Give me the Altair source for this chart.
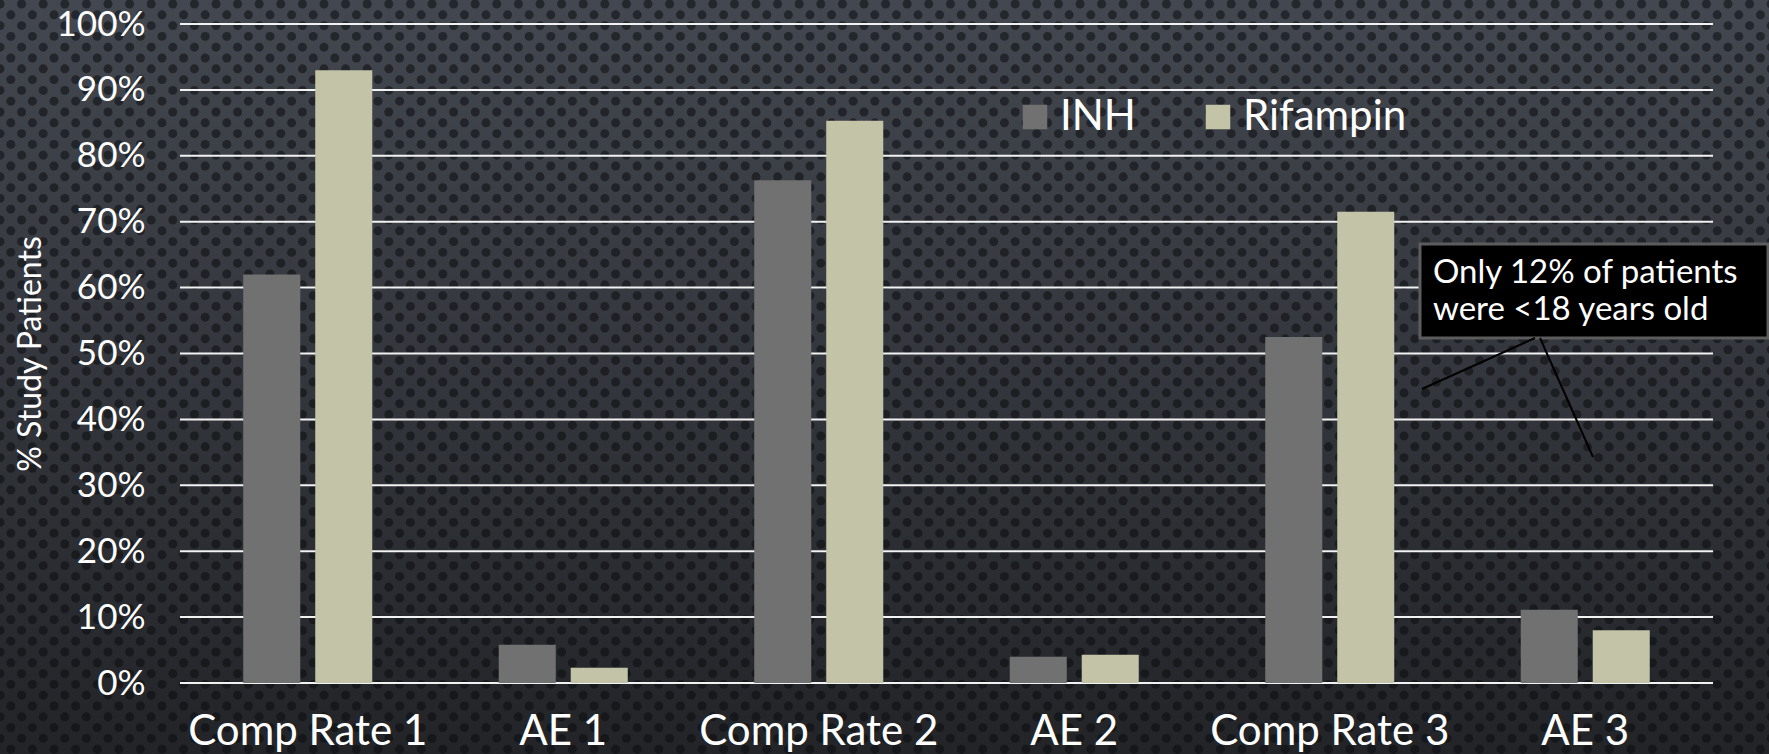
import altair as alt
import numpy as np
import pandas as pd

# ---- chart values -------------------------------------------------------
categories = ["Comp Rate 1", "AE 1", "Comp Rate 2", "AE 2", "Comp Rate 3", "AE 3"]
series = ["INH", "Rifampin"]
inh = [62.0, 5.8, 76.3, 4.0, 52.5, 11.1]
rifampin = [93.0, 2.3, 85.3, 4.3, 71.5, 8.0]
y_ticks = [0, 10, 20, 30, 40, 50, 60, 70, 80, 90, 100]
note_lines = ["Only 12% of patients", "were <18 years old"]

bars = pd.DataFrame(
    [{"category": c, "series": "INH", "value": v} for c, v in zip(categories, inh)]
    + [{"category": c, "series": "Rifampin", "value": v} for c, v in zip(categories, rifampin)]
)
grid = pd.DataFrame({"tick": y_ticks})

# ---- layout -------------------------------------------------------------
W, H = 1533, 659
PAD = {"left": 180, "top": 24, "right": 56, "bottom": 71}
TOTAL_W = W + PAD["left"] + PAD["right"]
TOTAL_H = H + PAD["top"] + PAD["bottom"]
FONT = "Lato"
one = pd.DataFrame({"k": [0]})

y_scale = alt.Scale(domain=[0, 100], nice=False)

# dark perforated-metal backdrop: gradient plate + staggered holes
plate = alt.Chart(one).mark_rect(
    color=alt.Gradient(
        gradient="linear", x1=0, x2=0, y1=0, y2=1,
        stops=[alt.GradientStop(offset=0, color="#43474f"),
               alt.GradientStop(offset=0.5, color="#33363c"),
               alt.GradientStop(offset=1, color="#222428")],
    )
).encode(
    x=alt.value(-PAD["left"]), x2=alt.value(W + PAD["right"]),
    y=alt.value(-PAD["top"]), y2=alt.value(H + PAD["bottom"]),
)

sx, sy = 21.6, 10.8
rows = []
for r in range(int(TOTAL_H / sy) + 2):
    off = 0 if r % 2 == 0 else sx / 2
    for c in np.arange(off, TOTAL_W + sx, sx):
        rows.append({"hx": c, "hy": r * sy + 4})
holes_df = pd.DataFrame(rows)
holes = alt.Chart(holes_df).mark_circle(color="#0b0c0e", opacity=0.55, size=80).encode(
    x=alt.X("hx:Q", scale=alt.Scale(domain=[0, TOTAL_W], range=[-PAD["left"], W + PAD["right"]]), axis=None),
    y=alt.Y("hy:Q", scale=alt.Scale(domain=[0, TOTAL_H], range=[-PAD["top"], H + PAD["bottom"]]), axis=None),
)

# horizontal gridlines (drawn as rules so they sit above the backdrop)
rules = alt.Chart(grid).mark_rule(color="#f2f2f2", strokeWidth=2).encode(
    y=alt.Y(
        "tick:Q", scale=y_scale,
        axis=alt.Axis(
            values=y_ticks, labelExpr="datum.value + '%'", zindex=1,
            grid=False, domain=False, ticks=False,
            labelColor="white", labelFont=FONT, labelFontSize=35, labelPadding=35,
            title="% Study Patients", titleColor="white", titleFont=FONT,
            titleFontSize=32, titleFontWeight="normal", titleAngle=270,
            titleX=-150, titleY=H / 2, titleAlign="center", titleBaseline="middle",
        ),
    )
)

bar_layer = alt.Chart(bars).mark_bar().encode(
    x=alt.X(
        "category:N", sort=categories,
        scale=alt.Scale(paddingInner=0.495, paddingOuter=0.2475),
        axis=alt.Axis(
            title=None, labelAngle=0, domain=False, ticks=False, zindex=1, labelLimit=0,
            labelColor="white", labelFont=FONT, labelFontSize=42, labelPadding=28,
        ),
    ),
    xOffset=alt.XOffset("series:N", sort=series, scale=alt.Scale(paddingInner=0.208, paddingOuter=0)),
    y=alt.Y("value:Q", scale=y_scale, axis=None),
    color=alt.Color(
        "series:N",
        scale=alt.Scale(domain=series, range=["#717171", "#c2c3a7"]),
        legend=alt.Legend(
            title=None, orient="none", legendX=834, legendY=72, direction="horizontal",
            symbolType="square", symbolSize=600, symbolStrokeWidth=0, symbolOpacity=1,
            labelColor="white", labelFont=FONT, labelFontSize=42, labelOffset=4,
            labelLimit=0, columnPadding=61,
        ),
    ),
)

# call-out box with two leader lines
note_box = alt.Chart(one).mark_rect(fill="black", stroke="#5c5c5c", strokeWidth=3).encode(
    x=alt.value(1240), x2=alt.value(1588), y=alt.value(220), y2=alt.value(314),
)
note_text = alt.Chart(one).mark_text(
    text=note_lines, align="left", baseline="middle", lineHeight=37,
    color="white", font=FONT, fontSize=33,
).encode(x=alt.value(1253), y=alt.value(249))
leader1 = alt.Chart(one).mark_rule(color="black", strokeWidth=2).encode(
    x=alt.value(1355), y=alt.value(314), x2=alt.value(1242), y2=alt.value(365),
)
leader2 = alt.Chart(one).mark_rule(color="black", strokeWidth=2).encode(
    x=alt.value(1360), y=alt.value(314), x2=alt.value(1413), y2=alt.value(433),
)

chart = (
    alt.layer(plate, holes, rules, bar_layer, note_box, note_text, leader1, leader2)
    .resolve_scale(x="independent", y="independent")
    .properties(
        width=W, height=H,
        autosize=alt.AutoSizeParams(type="none"),
        padding=PAD,
        background="#2c2f34",
    )
    .configure_view(stroke=None)
)

chart.save("out.html", embed_options={"renderer": "svg", "actions": False})
